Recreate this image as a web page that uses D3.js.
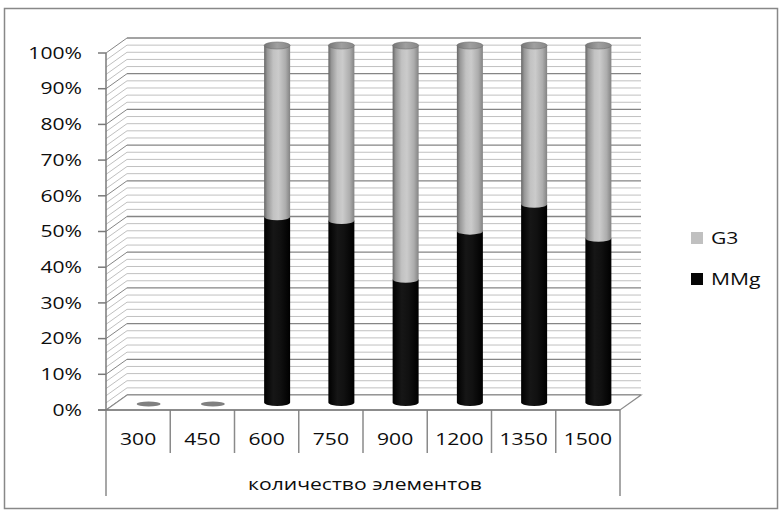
<!DOCTYPE html>
<html>
<head>
<meta charset="utf-8">
<script src="https://cdn.jsdelivr.net/npm/d3@7"></script>
<style>
  html, body { margin: 0; padding: 0; background: #fff; }
  svg { display: block; }
  text { font-family: "Open Sans", "Liberation Sans", sans-serif; fill: #0d0d0d; }
</style>
</head>
<body>
<svg id="chart" width="783" height="511"></svg>
<script>
// Share of each solver per mesh size (percent of total)
const categories = ["300", "450", "600", "750", "900", "1200", "1350", "1500"];
const mmgValues = [0, 0, 52, 51, 34.5, 48, 55.5, 46];
const g3Values  = [0, 0, 48, 49, 65.5, 52, 44.5, 54];
const seriesNames = ["G3", "MMg"];
const yTickValues = [0, 10, 20, 30, 40, 50, 60, 70, 80, 90, 100];
const axisTitle = "количество элементов";

const svg = d3.select("#chart");
const TEXT_SCALE = 1.28;   // wide lettering

// frame of the chart
svg.append("rect")
  .attr("x", 4.5).attr("y", 8.5).attr("width", 773).attr("height", 500)
  .attr("fill", "#fff").attr("stroke", "#888").attr("stroke-width", 1.5);

// 3D geometry: front plane and depth offset
const depthX = 21, depthY = -15;
const x = d3.scaleBand().domain(categories).range([106, 620]).padding(0);
const yFront = d3.scaleLinear().domain([0, 100]).range([410, 53]);
const yBack = v => yFront(v) + depthY;
const yMid = v => yFront(v) + depthY * 0.5;
const midShift = depthX * 0.5;

const defs = svg.append("defs");
function cylGradient(id, stops) {
  const g = defs.append("linearGradient").attr("id", id)
    .attr("x1", "0%").attr("x2", "100%").attr("y1", "0%").attr("y2", "0%");
  stops.forEach(s => g.append("stop").attr("offset", s[0]).attr("stop-color", s[1]));
}
cylGradient("gGray", [["0%", "#666"], ["12%", "#979797"], ["35%", "#c2c2c2"], ["55%", "#cbcbcb"], ["82%", "#adadad"], ["100%", "#838383"]]);
cylGradient("gBlack", [["0%", "#000"], ["35%", "#161616"], ["60%", "#111"], ["100%", "#000"]]);
cylGradient("gTop", [["0%", "#767676"], ["50%", "#a0a0a0"], ["100%", "#888"]]);

// gridlines on side wall and back wall, every 2%
const gridVals = d3.range(0, 101, 2);
const grid = svg.append("g");
gridVals.forEach(v => {
  const major = v % 10 === 0;
  const col = major ? "#858585" : "#c0c0c0";
  grid.append("line")
    .attr("x1", 106).attr("y1", yFront(v))
    .attr("x2", 106 + depthX).attr("y2", yBack(v))
    .attr("stroke", col).attr("stroke-width", 1);
  grid.append("line")
    .attr("x1", 106 + depthX).attr("y1", yBack(v))
    .attr("x2", 620 + depthX).attr("y2", yBack(v))
    .attr("stroke", col).attr("stroke-width", major ? 1.3 : 1);
});

// floor
svg.append("path")
  .attr("d", `M106,${yFront(0)} L${106 + depthX},${yBack(0)} L${620 + depthX},${yBack(0)} L620,${yFront(0)} Z`)
  .attr("fill", "#fff").attr("stroke", "#8a8a8a").attr("stroke-width", 1.2);

// value axis
const yAxisG = svg.append("g");
yAxisG.append("line").attr("x1", 106).attr("x2", 106)
  .attr("y1", yFront(100)).attr("y2", yFront(0)).attr("stroke", "#7a7a7a").attr("stroke-width", 1.5);
yTickValues.forEach(v => {
  yAxisG.append("line").attr("x1", 98).attr("x2", 106)
    .attr("y1", yFront(v)).attr("y2", yFront(v)).attr("stroke", "#7a7a7a").attr("stroke-width", 1.5);
  yAxisG.append("text")
    .attr("transform", `translate(82,${yFront(v)}) scale(${TEXT_SCALE},1)`)
    .attr("text-anchor", "end").attr("dy", "0.35em")
    .attr("font-size", 16.5)
    .text(v + "%");
});

// cylinders
const rx = 13, ry = 3.5;
const bars = svg.append("g");
categories.forEach((c, i) => {
  const cx = x(c) + x.bandwidth() / 2 + midShift;
  const m = mmgValues[i], g = g3Values[i];
  if (m + g === 0) {
    bars.append("ellipse").attr("cx", cx).attr("cy", yMid(0) + 1.5)
      .attr("rx", 12).attr("ry", 2.5).attr("fill", "#808080");
    return;
  }
  // lower segment (MMg)
  const y0 = yMid(0), y1 = yMid(m);
  bars.append("path")
    .attr("d", `M${cx - rx},${y1} L${cx - rx},${y0} A${rx},${ry} 0 0 0 ${cx + rx},${y0} L${cx + rx},${y1} Z`)
    .attr("fill", "url(#gBlack)");
  // upper segment (G3)
  const y2 = yMid(m + g);
  bars.append("path")
    .attr("d", `M${cx - rx},${y2} L${cx - rx},${y1} A${rx},${ry} 0 0 0 ${cx + rx},${y1} L${cx + rx},${y2} Z`)
    .attr("fill", "url(#gGray)");
  bars.append("ellipse").attr("cx", cx).attr("cy", y2)
    .attr("rx", rx).attr("ry", ry).attr("fill", "url(#gTop)")
    .attr("stroke", "#6f6f6f").attr("stroke-width", 0.6);
});

// category axis table
const catG = svg.append("g");
const edges = categories.map(c => x(c)).concat([x.range()[1]]);
edges.forEach((ex, i) => {
  const outer = i === 0 || i === edges.length - 1;
  catG.append("line").attr("x1", ex).attr("x2", ex)
    .attr("y1", yFront(0)).attr("y2", outer ? 496 : 453)
    .attr("stroke", "#8a8a8a").attr("stroke-width", 1.5);
});
catG.append("line").attr("x1", 98).attr("x2", 620)
  .attr("y1", yFront(0)).attr("y2", yFront(0))
  .attr("stroke", "#7a7a7a").attr("stroke-width", 1.5);
categories.forEach(c => {
  catG.append("text")
    .attr("transform", `translate(${x(c) + x.bandwidth() / 2},439) scale(${TEXT_SCALE},1)`)
    .attr("text-anchor", "middle").attr("dy", "0.35em")
    .attr("font-size", 16.5)
    .text(c);
});
catG.append("text")
  .attr("transform", `translate(${(x.range()[0] + x.range()[1]) / 2 + 2},484) scale(${TEXT_SCALE},1)`)
  .attr("text-anchor", "middle").attr("dy", "0.35em")
  .attr("font-size", 16.5)
  .text(axisTitle);

// legend
const legendColors = ["#c0c0c0", "#050505"];
const legendY = [238, 279];
seriesNames.forEach((name, i) => {
  svg.append("rect").attr("x", 691).attr("y", legendY[i] - 6)
    .attr("width", 12).attr("height", 12).attr("fill", legendColors[i]);
  svg.append("text")
    .attr("transform", `translate(711,${legendY[i]}) scale(${TEXT_SCALE},1)`)
    .attr("dy", "0.35em").attr("font-size", 16.5)
    .text(name);
});
</script>
</body>
</html>
